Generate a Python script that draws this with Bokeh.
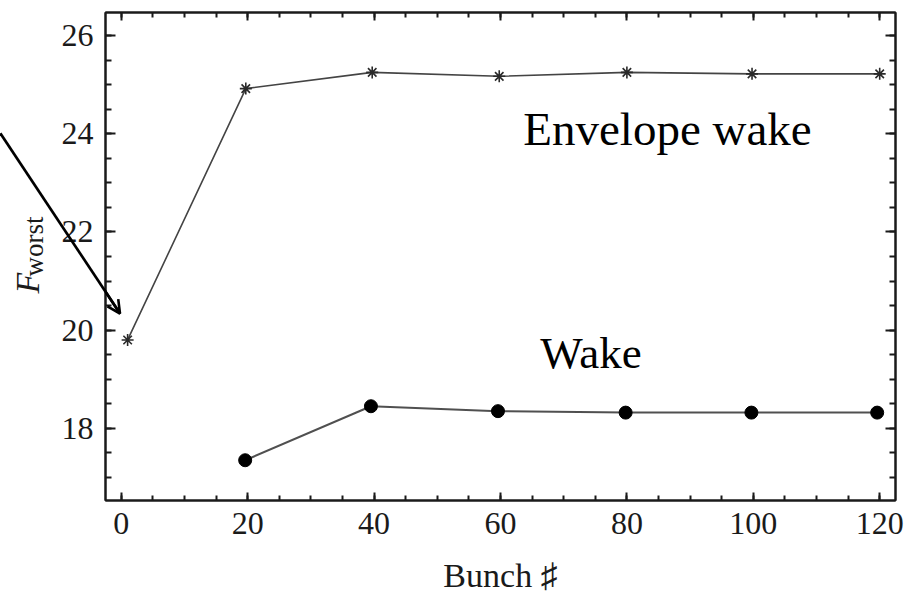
import math
from bokeh.plotting import figure
from bokeh.models import (SingleIntervalTicker, LinearAxis, Range1d, Label,
                          Arrow, OpenHead)
from bokeh.embed import file_html
from bokeh.resources import INLINE

# ---- data ----
env_x = [1, 19.7, 39.7, 59.8, 80.0, 99.8, 120.0]
env_y = [19.80, 24.92, 25.25, 25.17, 25.25, 25.22, 25.22]

wake_x = [19.6, 39.5, 59.6, 79.8, 99.7, 119.6]
wake_y = [17.35, 18.45, 18.35, 18.32, 18.32, 18.32]

x_label = "Bunch \u266f"
y_label_main = "F"
y_label_sub = "worst"
env_text = "Envelope wake"
wake_text = "Wake"

# annotation anchors
env_text_pos = (63.6, 24.09)      # data units (middle of text)
wake_text_pos = (66.3, 19.53)     # data units (middle of text)
x_label_pos = (500, 575)          # page px (middle of text)
f_pos = (27.3, 293)               # page px
sub_pos = (33.8, 276)             # page px
arrow_start = (0, 133)            # page px
arrow_tip = (119.5, 313)          # page px

FONT = "Liberation Serif"
INK = "#1a1a1a"

# extra hidden canvas on the left so that out-of-frame annotations fit
E = 320

p = figure(width=909 + E, height=594, output_backend="svg",
           toolbar_location=None, margin=(0, 0, 0, -E),
           x_range=Range1d(-2.5, 122.5), y_range=Range1d(16.53, 26.47),
           min_border_left=105 + E, min_border_right=14, min_border_top=12,
           min_border_bottom=94, x_axis_location=None, y_axis_location=None)
p.grid.visible = False
p.outline_line_color = INK
p.outline_line_width = 2
p.background_fill_color = "white"
p.border_fill_color = "white"

xt = SingleIntervalTicker(interval=20, num_minor_ticks=4)
yt = SingleIntervalTicker(interval=2, num_minor_ticks=4)


def style(ax, show_labels, standoff, tin, mtin):
    ax.axis_line_color = INK
    ax.axis_line_width = 2
    ax.major_tick_line_color = INK
    ax.major_tick_line_width = 2
    ax.minor_tick_line_color = INK
    ax.minor_tick_line_width = 2
    ax.major_tick_in = tin
    ax.major_tick_out = 0
    ax.minor_tick_in = mtin
    ax.minor_tick_out = 0
    ax.major_label_text_font = FONT
    ax.major_label_text_color = INK
    if show_labels:
        ax.major_label_text_font_size = "32px"
        ax.major_label_standoff = standoff
    else:
        ax.major_label_text_font_size = "0px"
        ax.major_label_standoff = 0
        ax.major_label_text_alpha = 0


bottom = LinearAxis(ticker=xt)
style(bottom, True, 12, 8, 5)
left = LinearAxis(ticker=yt)
style(left, True, 12, 10, 6)
top = LinearAxis(ticker=xt)
style(top, False, 0, 8, 5)
right = LinearAxis(ticker=yt)
style(right, False, 0, 10, 6)
p.add_layout(bottom, "below")
p.add_layout(left, "left")
p.add_layout(top, "above")
p.add_layout(right, "right")

# series
p.line(env_x, env_y, line_color="#444444", line_width=1.6)
p.scatter(env_x, env_y, marker="asterisk", size=12, line_color="#2a2a2a",
          line_width=1.6)
p.line(wake_x, wake_y, line_color="#505050", line_width=2.0)
p.scatter(wake_x, wake_y, marker="circle", size=13, fill_color="black",
          line_color="black")

# in-plot texts
p.add_layout(Label(x=env_text_pos[0], y=env_text_pos[1], text=env_text,
                   text_font=FONT, text_font_size="47px", text_color="black",
                   text_align="left", text_baseline="middle"))
p.add_layout(Label(x=wake_text_pos[0], y=wake_text_pos[1], text=wake_text,
                   text_font=FONT, text_font_size="45px", text_color="black",
                   text_align="left", text_baseline="middle"))

# ---- arrow ----
dx = arrow_tip[0] - arrow_start[0]
dy = arrow_tip[1] - arrow_start[1]
L = math.hypot(dx, dy)
# head (inside the frame)
p.add_layout(Arrow(end=OpenHead(size=13, line_width=2.6, line_color="black"),
                   x_start=arrow_start[0] + E, y_start=arrow_start[1],
                   x_end=arrow_tip[0] + E, y_end=arrow_tip[1],
                   start_units="canvas", end_units="canvas",
                   line_width=2.6, line_color="black"))
# shaft (outside the frame): thin rotated box in the left panel
half = int(round(L / 2))
p.add_layout(Label(x=arrow_start[0] + dx / 2 + E, y=arrow_start[1] + dy / 2,
                   text=" ", x_units="canvas", y_units="canvas",
                   angle=-math.atan2(dy, dx), text_font_size="2.4px",
                   text_color="black",
                   text_align="center", text_baseline="middle",
                   background_fill_color="black",
                   padding=dict(left=half, right=half, top=0, bottom=0)),
             "left")

# ---- axis titles (side panels, canvas units) ----
p.add_layout(Label(x=x_label_pos[0] + E, y=x_label_pos[1], text=x_label,
                   x_units="canvas", y_units="canvas", text_font=FONT,
                   text_font_size="34px", text_color=INK,
                   text_align="center", text_baseline="middle"), "below")
p.add_layout(Label(x=f_pos[0] + E, y=f_pos[1], text=y_label_main,
                   x_units="canvas", y_units="canvas", text_font=FONT,
                   text_font_size="34px", text_font_style="italic",
                   text_color=INK, angle=math.pi / 2,
                   text_align="left", text_baseline="middle"), "left")
p.add_layout(Label(x=sub_pos[0] + E, y=sub_pos[1], text=y_label_sub,
                   x_units="canvas", y_units="canvas", text_font=FONT,
                   text_font_size="27px", text_color=INK, angle=math.pi / 2,
                   text_align="left", text_baseline="middle"), "left")

open("out.html", "w").write(file_html(p, INLINE))
